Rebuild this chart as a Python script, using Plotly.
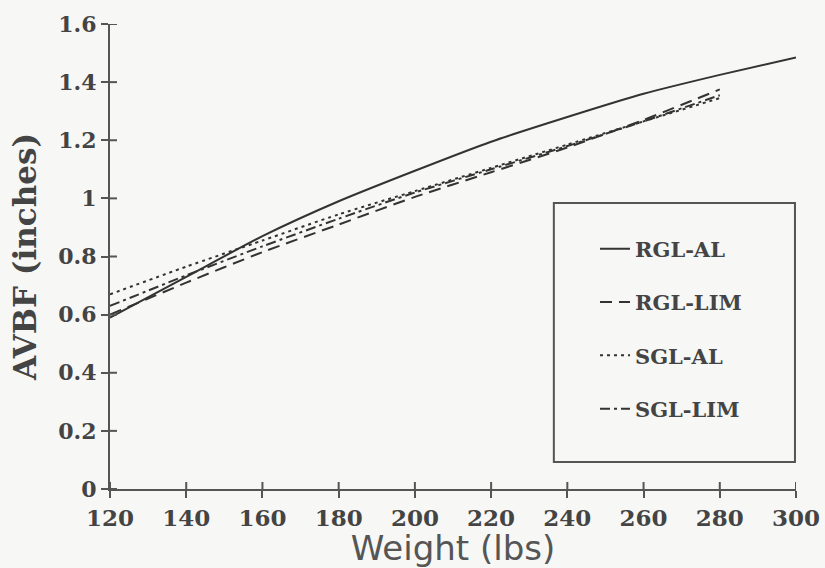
import plotly.graph_objects as go

weights_full = [120, 140, 160, 180, 200, 220, 240, 260, 280, 300]
weights = [120, 140, 160, 180, 200, 220, 240, 260, 280]

rgl_al = [0.59, 0.73, 0.87, 0.99, 1.095, 1.195, 1.28, 1.36, 1.425, 1.485]
rgl_lim = [0.60, 0.71, 0.815, 0.91, 1.005, 1.09, 1.175, 1.27, 1.375]
sgl_al = [0.67, 0.765, 0.855, 0.945, 1.025, 1.105, 1.185, 1.265, 1.345]
sgl_lim = [0.63, 0.735, 0.835, 0.93, 1.02, 1.10, 1.18, 1.265, 1.355]

x_ticks = [120, 140, 160, 180, 200, 220, 240, 260, 280, 300]
y_ticks = [0, 0.2, 0.4, 0.6, 0.8, 1, 1.2, 1.4, 1.6]

INK = "#333333"
AXC = "#555555"
BG = "#f7f7f5"

series = [
    ("RGL-AL", weights_full, rgl_al, "solid"),
    ("RGL-LIM", weights, rgl_lim, "12px,7px"),
    ("SGL-AL", weights, sgl_al, "3px,4px"),
    ("SGL-LIM", weights, sgl_lim, "10px,4px,3px,4px"),
]

fig = go.Figure()
for name, xs, ys, dash in series:
    fig.add_trace(go.Scatter(
        x=xs, y=ys, mode="lines", name=name, legendgroup=name,
        line=dict(color=INK, width=2, dash=dash, shape="spline", smoothing=0.6),
    ))

# inward half of the crossing tick marks, placed at the tick values
shapes = []
for v in x_ticks:
    shapes.append(dict(type="line", xref="x", yref="paper", x0=v, x1=v,
                       ysizemode="pixel", yanchor=0, y0=0, y1=7,
                       line=dict(color=AXC, width=2)))
for v in y_ticks:
    shapes.append(dict(type="line", xref="paper", yref="y", y0=v, y1=v,
                       xsizemode="pixel", xanchor=0, x0=0, x1=7,
                       line=dict(color=AXC, width=2)))
# legend frame
shapes.append(dict(type="rect", xref="paper", yref="paper",
                   x0=0.647, x1=0.9985, y0=0.058, y1=0.615,
                   line=dict(color=AXC, width=2), fillcolor="rgba(0,0,0,0)"))

fig.update_layout(
    width=825, height=568,
    margin=dict(l=110, r=29, t=24, b=79, autoexpand=False),
    paper_bgcolor=BG, plot_bgcolor=BG,
    showlegend=True,
    xaxis=dict(
        range=[120, 300], tickvals=x_ticks, ticktext=[str(v) for v in x_ticks],
        showgrid=False, zeroline=False, showline=True, linecolor=AXC, linewidth=2,
        ticks="outside", ticklen=7, tickwidth=2, tickcolor=AXC,
        tickfont=dict(family="DejaVu Serif", size=23, color="#444444", weight="bold"),
        title=dict(text="Weight (lbs)", standoff=12,
                   font=dict(family="DejaVu Sans", size=34, color="#555555")),
        automargin=False, fixedrange=True,
    ),
    yaxis=dict(
        range=[0, 1.6], tickvals=y_ticks,
        ticktext=["0", "0.2", "0.4", "0.6", "0.8", "1", "1.2", "1.4", "1.6"],
        showgrid=False, zeroline=False, showline=True, linecolor=AXC, linewidth=2,
        ticks="outside", ticklen=7, tickwidth=2, tickcolor=AXC,
        tickfont=dict(family="DejaVu Serif", size=22, color="#444444", weight="bold"),
        title=dict(text="AVBF (inches)", standoff=12,
                   font=dict(family="DejaVu Serif", size=31, color="#444444", weight="bold")),
        automargin=False, fixedrange=True,
    ),
    legend=dict(
        x=0.707, y=0.56, xanchor="left", yanchor="top",
        bgcolor="rgba(0,0,0,0)", borderwidth=0,
        font=dict(family="DejaVu Serif", size=21, color="#444444", weight="bold"),
        tracegroupgap=23, itemwidth=30,
    ),
    shapes=shapes,
)

fig.write_html("out.html")
